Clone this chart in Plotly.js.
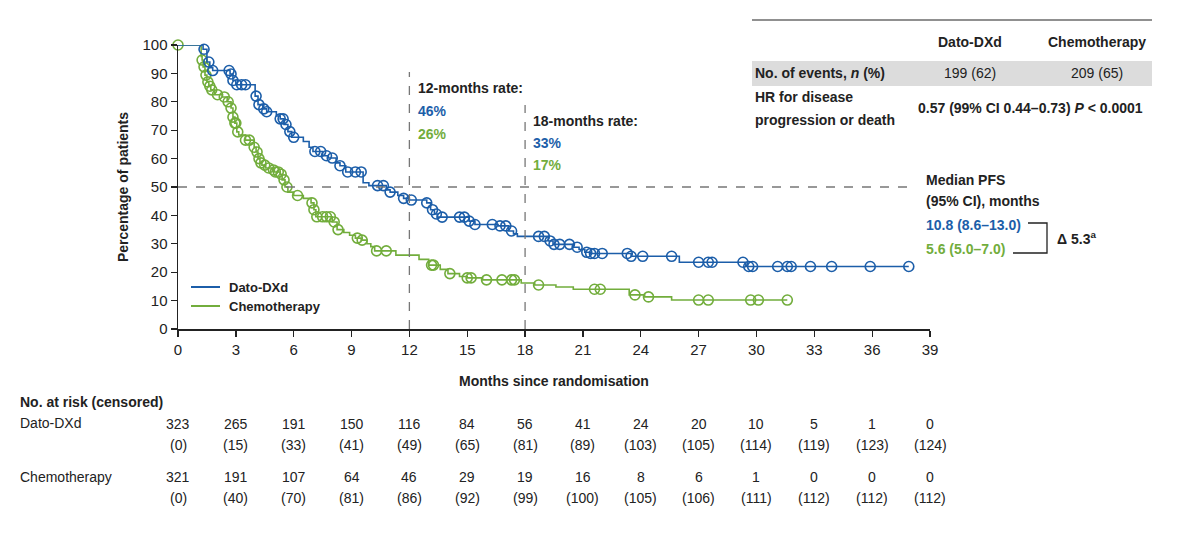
<!DOCTYPE html>
<html><head><meta charset="utf-8">
<script src="https://cdn.plot.ly/plotly-3.0.1.min.js"></script>
<style>html,body{margin:0;padding:0;background:#fff}#chart{width:1178px;height:536px}</style>
</head><body><div id="chart"></div>
<script>
// ---- Data ----
const datoTimes = [0,1.3,1.5,1.65,1.8,2.7,2.85,3.0,4.0,4.15,4.4,4.6,5.1,5.3,5.5,5.7,5.9,6.5,6.8,7.0,7.5,7.8,8.2,8.4,8.7,9.6,9.9,10.8,11.0,11.4,11.7,12.0,12.9,13.1,13.3,13.45,15.1,15.4,16.6,17.15,17.4,17.6,19.2,19.45,20.5,20.8,21.1,21.4,23.5,26.0,29.45];
const datoSurv  = [100,98.5,94,92,91,89.8,87.5,86,82,79,77.5,76.5,75,74,72,69.5,67.5,66,64,62.5,61,60.2,58.5,57.5,55.3,51.5,50.5,49,48.2,47,46,45.4,44.4,42,40.5,39.4,38,36.8,36.3,34.5,33.5,32.6,31,29.8,28.8,28,27,26.6,25.6,23.5,22];
const datoEnd = 37.9;
const datoCensor = [1.35,1.6,1.8,2.65,2.75,2.85,3.05,3.3,3.5,4.05,4.2,4.45,4.6,5.3,5.45,5.6,5.8,6.0,7.1,7.4,7.7,8.0,8.4,8.8,9.2,9.5,10.35,10.65,11.0,11.7,12.1,12.9,13.2,13.4,13.7,14.6,14.85,15.1,15.4,16.3,16.7,17.0,17.3,18.7,19.0,19.3,19.5,19.8,20.3,20.7,21.2,21.4,21.6,22.0,23.3,23.5,24.1,25.6,27.0,27.5,27.7,29.3,29.6,29.8,31.1,31.6,31.8,32.8,33.9,35.9,37.9];

const chemoTimes = [0,1.2,1.25,1.3,1.4,1.5,1.6,1.7,1.9,2.3,2.55,2.75,2.85,2.95,3.05,3.15,3.5,3.95,4.05,4.15,4.25,4.35,4.55,4.9,5.0,5.3,5.4,5.55,5.7,6.0,6.5,6.9,7.05,7.15,8.0,8.25,8.6,8.9,9.2,9.5,9.8,10.0,10.2,11.3,12.5,13.0,13.6,14.0,14.6,15.0,15.8,17.8,18.5,19.6,20.5,23.4,24.2,25.6];
const chemoSurv  = [100,96,94.7,92.3,89.4,87,85.5,84.2,82.5,81.7,80,77.8,74.6,72.5,69.4,68.3,66.5,64,62.3,60,58.5,57.7,56.7,56,55.3,54.5,52.5,50,48.2,47,46,44.4,42,39.5,37.7,35,34,33,32,31.3,30,29,27.5,26,24.5,22.5,21,19.5,18.5,18,17.3,16.2,15.5,14.8,14,12,11.3,10.2];
const chemoEnd = 31.6;
const chemoCensor = [0,1.25,1.35,1.45,1.55,1.65,1.75,2.05,2.4,2.6,2.75,2.85,2.95,3.0,3.1,3.5,3.7,3.95,4.1,4.2,4.3,4.5,4.7,4.95,5.05,5.2,5.35,5.5,5.65,6.2,6.95,7.05,7.2,7.5,7.7,7.9,8.1,8.3,9.3,9.55,10.3,10.8,13.15,13.25,14.1,15.0,15.2,16.0,16.8,17.3,17.45,18.7,21.6,21.9,23.7,24.4,27.0,27.5,29.7,30.1,31.6];

const riskMonths = [0,3,6,9,12,15,18,21,24,27,30,33,36,39];
const datoRisk = [323,265,191,150,116,84,56,41,24,20,10,5,1,0];
const datoCens = [0,15,33,41,49,65,81,89,103,105,114,119,123,124];
const chemoRisk = [321,191,107,64,46,29,19,16,8,6,1,0,0,0];
const chemoCens = [0,40,70,81,86,92,99,100,105,106,111,112,112,112];

const tableHeaders = ['Dato-DXd','Chemotherapy'];
const eventsRow = ['199 (62)','209 (65)'];

const BLUE = '#1c5ea9', GREEN = '#72ad3c';
const FONT = "Arial,'Liberation Sans',sans-serif";

function stepAt(ts, ss, t){ let v = ss[0]; for (let i=0;i<ts.length;i++){ if (ts[i] <= t) v = ss[i]; } return v; }
function stepLine(ts, ss, end){ return {x: ts.concat([end]), y: ss.concat([ss[ss.length-1]])}; }

const dl = stepLine(datoTimes, datoSurv, datoEnd);
const cl = stepLine(chemoTimes, chemoSurv, chemoEnd);

const traces = [
  {x: cl.x, y: cl.y, mode:'lines', line:{shape:'hv', color:GREEN, width:1.6}, hoverinfo:'skip', cliponaxis:false},
  {x: chemoCensor, y: chemoCensor.map(t=>stepAt(chemoTimes, chemoSurv, t)), mode:'markers', marker:{symbol:'circle-open', size:10, color:GREEN, line:{width:1.6}}, cliponaxis:false},
  {x: dl.x, y: dl.y, mode:'lines', line:{shape:'hv', color:BLUE, width:1.6}, hoverinfo:'skip', cliponaxis:false},
  {x: datoCensor, y: datoCensor.map(t=>stepAt(datoTimes, datoSurv, t)), mode:'markers', marker:{symbol:'circle-open', size:10, color:BLUE, line:{width:1.6}}, cliponaxis:false}
];

// pixel helpers (plot area: x 178..930, y 45..329)
const px = x => (x-178)/752;
const py = y => (329-y)/284;

const ann = [];
function A(text, x, y, opts){ ann.push(Object.assign({text, x:px(x), y:py(y), xref:'paper', yref:'paper', showarrow:false, xanchor:'left', yanchor:'middle', font:{family:FONT, size:14, color:'#222'}}, opts||{})); }

A('<b>12-months rate:</b>', 416, 88);
A('<b>46%</b>', 416, 111, {font:{family:FONT,size:14,color:BLUE}});
A('<b>26%</b>', 416, 134, {font:{family:FONT,size:14,color:GREEN}});
A('<b>18-months rate:</b>', 531, 121);
A('<b>33%</b>', 531, 143, {font:{family:FONT,size:14,color:BLUE}});
A('<b>17%</b>', 531, 165, {font:{family:FONT,size:14,color:GREEN}});

// table
A('<b>'+tableHeaders[0]+'</b>', 970, 42, {xanchor:'center'});
A('<b>'+tableHeaders[1]+'</b>', 1097, 42, {xanchor:'center'});
A('<b>No. of events, <i>n</i> (%)</b>', 753, 73);
A(eventsRow[0], 970, 73, {xanchor:'center'});
A(eventsRow[1], 1097, 73, {xanchor:'center'});
A('<b>HR for disease</b>', 753, 97);
A('<b>progression or death</b>', 753, 120);
A('<b>0.57 (99% CI 0.44–0.73) <i>P</i> &lt; 0.0001</b>', 1030, 108, {xanchor:'center'});

// median PFS
A('<b>Median PFS</b>', 924, 180);
A('<b>(95% CI), months</b>', 924, 201);
A('<b>10.8 (8.6–13.0)</b>', 924, 225, {font:{family:FONT,size:14,color:BLUE}});
A('<b>5.6 (5.0–7.0)</b>', 924, 249, {font:{family:FONT,size:14,color:GREEN}});
A('<b>Δ 5.3<sup>a</sup></b>', 1055, 238);

// legend
A('<b>Dato-DXd</b>', 227, 287, {font:{family:FONT,size:13,color:'#222'}});
A('<b>Chemotherapy</b>', 227, 306, {font:{family:FONT,size:13,color:'#222'}});

// risk table
A('<b>No. at risk (censored)</b>', 18, 402);
A('Dato-DXd', 18, 423);
A('Chemotherapy', 18, 477);
riskMonths.forEach((m,i)=>{
  const x = 178 + m*752/39;
  A(String(datoRisk[i]), x, 424, {xanchor:'center'});
  A('('+datoCens[i]+')', x, 445, {xanchor:'center'});
  A(String(chemoRisk[i]), x, 477, {xanchor:'center'});
  A('('+chemoCens[i]+')', x, 498, {xanchor:'center'});
});

const shapes = [
  {type:'line', xref:'x', yref:'y', x0:0, x1:38.2, y0:50, y1:50, line:{color:'#777', width:1.3, dash:'dash'}},
  {type:'line', xref:'x', yref:'y', x0:12, x1:12, y0:0, y1:90.5, line:{color:'#777', width:1.3, dash:'dash'}},
  {type:'line', xref:'x', yref:'y', x0:18, x1:18, y0:0, y1:78.9, line:{color:'#777', width:1.3, dash:'dash'}},
  // table
  {type:'line', xref:'paper', yref:'paper', x0:px(752), x1:px(1152), y0:py(20), y1:py(20), line:{color:'#222', width:1.2}},
  {type:'rect', xref:'paper', yref:'paper', x0:px(752), x1:px(1152), y0:py(61), y1:py(86), fillcolor:'#dcdcdc', line:{width:0}, layer:'below'},
  // bracket
  {type:'path', xref:'paper', yref:'paper', path:`M ${px(1028)} ${py(223)} L ${px(1047)} ${py(223)} L ${px(1047)} ${py(253)} L ${px(1013)} ${py(253)}`, line:{color:'#222', width:1.3}},
  // legend lines
  {type:'line', xref:'paper', yref:'paper', x0:px(191), x1:px(220), y0:py(287), y1:py(287), line:{color:BLUE, width:2}},
  {type:'line', xref:'paper', yref:'paper', x0:px(191), x1:px(220), y0:py(306), y1:py(306), line:{color:GREEN, width:2}}
];

const layout = {
  width:1178, height:536,
  margin:{l:178, r:248, t:45, b:207},
  paper_bgcolor:'#fff', plot_bgcolor:'#fff',
  showlegend:false,
  font:{family:FONT, size:14, color:'#222'},
  xaxis:{range:[0,39], tickvals:riskMonths, ticks:'outside', ticklen:6, tickwidth:1.3, tickcolor:'#222',
         showline:true, linecolor:'#222', linewidth:1.5, showgrid:false, zeroline:false,
         tickfont:{family:FONT, size:15, color:'#222'},
         title:{text:'<b>Months since randomisation</b>', font:{family:FONT, size:14, color:'#222'}, standoff:19}},
  yaxis:{range:[0,100], dtick:10, ticks:'outside', ticklen:6, tickwidth:1.3, tickcolor:'#222',
         showline:true, linecolor:'#222', linewidth:1.5, showgrid:false, zeroline:false,
         tickfont:{family:FONT, size:15, color:'#222'},
         title:{text:'<b>Percentage of patients</b>', font:{family:FONT, size:14, color:'#222'}, standoff:10}},
  shapes, annotations:ann
};

Plotly.newPlot('chart', traces, layout, {staticPlot:true, displayModeBar:false});
</script></body></html>
